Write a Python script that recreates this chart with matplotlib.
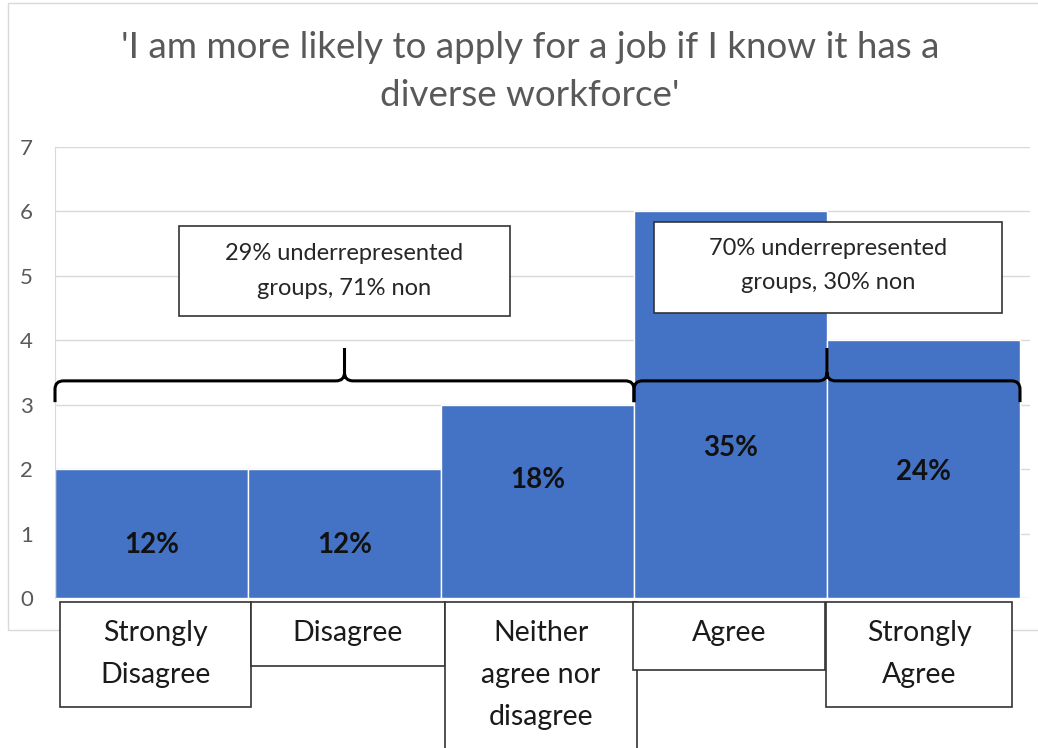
import numpy as np
import matplotlib.pyplot as plt
from matplotlib.patches import Rectangle, PathPatch
from matplotlib.path import Path

plt.rcParams['font.family'] = ['Lato', 'DejaVu Sans']

# data
categories = [['Strongly', 'Disagree'], ['Disagree'], ['Neither', 'agree nor', 'disagree'],
              ['Agree'], ['Strongly', 'Agree']]
counts = [2, 2, 3, 6, 4]
shares = ['12%', '12%', '18%', '35%', '24%']
group_spans = [(0, 2), (3, 4)]
group_notes = [['29% underrepresented', 'groups, 71% non'],
               ['70% underrepresented', 'groups, 30% non']]
title_lines = ["'I am more likely to apply for a job if I know it has a", "diverse workforce'"]

# layout (data units)
label_y = [0.82, 0.82, 1.83, 2.33, 1.95]
cat_left = [-0.474, 0.516, 1.52, 2.495, 3.495]
cat_right = [0.516, 1.52, 2.515, 3.49, 4.46]
cat_bottom = [-1.69, -1.06, -2.8, -1.12, -1.69]
note_boxes = [(0.142, 1.857, 4.38, 5.78), (2.604, 4.407, 4.43, 5.84)]
note_line_y = [[5.35, 4.81], [5.43, 4.89]]

W, H = 1038, 748
fig = plt.figure(figsize=(W / 100, H / 100), dpi=100)
ax = fig.add_axes([55 / W, 150 / H, 975 / W, 451 / H])

x = np.arange(len(counts))
ax.bar(x, counts, width=1.0, color='#4472C4', edgecolor='white', linewidth=1, zorder=2)
ax.set_xlim(-0.5, -0.5 + 975 / 193)
ax.set_ylim(0, 7)
ax.set_yticks(range(8))
ax.yaxis.grid(True, color='#D9D9D9', linewidth=1, zorder=0)
ax.tick_params(axis='y', length=0, pad=16, labelsize=16, labelcolor='#595959')
ax.set_xticks([])
for s in ['top', 'right', 'bottom']:
    ax.spines[s].set_visible(False)
ax.spines['left'].set_color('#D9D9D9')
ax.set_axisbelow(True)

# percentage labels
for i, s in enumerate(shares):
    ax.text(x[i], label_y[i], s, ha='center', va='center', fontsize=20,
            fontweight='bold', color='#111111', zorder=5)

# category boxes under the axis
for i, lines in enumerate(categories):
    ax.add_patch(Rectangle((cat_left[i], cat_bottom[i]), cat_right[i] - cat_left[i],
                           -0.06 - cat_bottom[i], facecolor='white', edgecolor='#333333',
                           linewidth=1.2, clip_on=False, zorder=6))
    for k, t in enumerate(lines):
        ax.text((cat_left[i] + cat_right[i]) / 2, -0.543 - 0.652 * k, t, ha='center',
                va='center', fontsize=20.5, color='#1a1a1a', clip_on=False, zorder=7)


# braces
def brace(x0, x1, yb=3.37, yend=3.04, ytip=3.88, rx=0.045, ry=0.13):
    xm = (x0 + x1) / 2
    verts = [(x0, yend), (x0, yb - ry), (x0, yb), (x0 + rx, yb),
             (xm - rx, yb), (xm, yb), (xm, yb + ry), (xm, ytip),
             (xm, yb + ry), (xm, yb), (xm + rx, yb),
             (x1 - rx, yb), (x1, yb), (x1, yb - ry), (x1, yend)]
    codes = [Path.MOVETO, Path.LINETO, Path.CURVE3, Path.CURVE3,
             Path.LINETO, Path.CURVE3, Path.CURVE3, Path.LINETO,
             Path.MOVETO, Path.CURVE3, Path.CURVE3,
             Path.LINETO, Path.CURVE3, Path.CURVE3, Path.LINETO]
    ax.add_patch(PathPatch(Path(verts, codes), facecolor='none', edgecolor='black',
                           linewidth=2.2, zorder=8, clip_on=False))


for (a, b) in group_spans:
    brace(a - 0.5, b + 0.5)

# note boxes
for j, (l, r, bt, tp) in enumerate(note_boxes):
    ax.add_patch(Rectangle((l, bt), r - l, tp - bt, facecolor='white', edgecolor='#333333',
                           linewidth=1.2, zorder=9))
    for k, t in enumerate(group_notes[j]):
        ax.text((l + r) / 2, note_line_y[j][k], t, ha='center', va='center',
                fontsize=17, color='#262626', zorder=10)

# title
fig.text(530 / W, 1 - 47 / H, title_lines[0], ha='center', va='center', fontsize=26.5,
         color='#595959')
fig.text(530 / W, 1 - 95 / H, title_lines[1], ha='center', va='center', fontsize=26.5,
         color='#595959')

# chart border
fig.patches.append(Rectangle((8 / W, 118 / H), 1.1, 627 / H, transform=fig.transFigure,
                             fill=False, edgecolor='#D9D9D9', linewidth=1, zorder=-1))

fig.savefig('out.png', dpi=100)
